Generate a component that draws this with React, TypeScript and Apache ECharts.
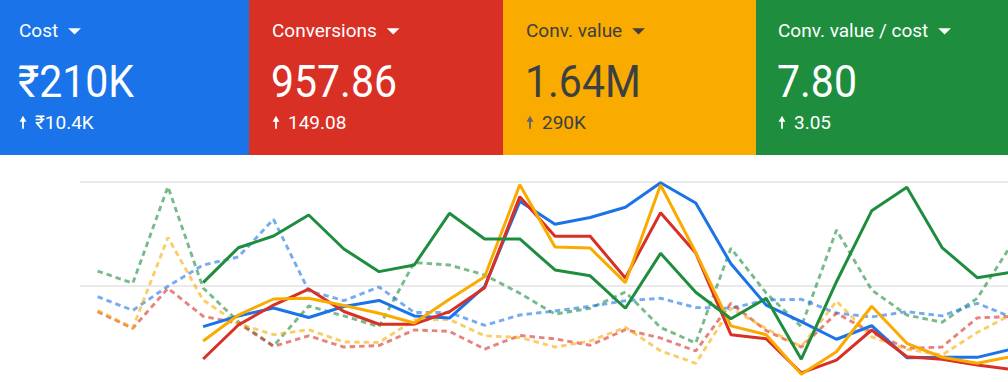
import React, { useEffect, useRef } from "react";
import * as echarts from "echarts";

// ---- Scorecard tiles ----
const tileTitles = ["Cost", "Conversions", "Conv. value", "Conv. value / cost"];
const tileValues = ["₹210K", "957.86", "1.64M", "7.80"];
const tileDeltas = ["₹10.4K", "149.08", "290K", "3.05"];

// ---- Chart data (normalised per metric: 100 = middle gridline, 200 = top gridline) ----
const weeks = [
  "W1", "W2", "W3", "W4", "W5", "W6", "W7", "W8", "W9", "W10", "W11", "W12", "W13", "W14",
  "W15", "W16", "W17", "W18", "W19", "W20", "W21", "W22", "W23", "W24", "W25", "W26", "W27",
];

const cost = [null, null, null, 60.9, 71.2, 78.8, 69.7, 80.3, 86.1, 71.2, 69.2, 99.5, 181.4, 159.4, 165.9, 175.7, 199.3, 179.8, 121.3, 81.7, 65.7, 48.8, 61.8, 31.0, 31.4, 31.4, 39.4];
const conversions = [null, null, null, 29.8, 62.5, 81.7, 97.1, 75.5, 63.2, 63.3, 75.3, 98.3, 185.9, 147.8, 147.8, 107.7, 170.5, 131.7, 53.2, 49.3, 16.5, 28.8, 57.7, 32.0, 29.6, 24.0, 19.6];
const convValue = [null, null, null, 47.1, 72.1, 87.5, 88.2, 81.3, 73.8, 64.4, 87.3, 108.9, 197.4, 137.5, 136.5, 103.2, 197.1, 132.2, 61.7, 53.2, 15.2, 36.8, 80.5, 44.9, 31.5, 25.7, 32.4];
const roas = [null, null, null, 103.2, 136.8, 148.1, 168.3, 135.6, 113.8, 120.2, 169.9, 145.2, 145.2, 115.4, 109.8, 78.6, 131.4, 94.0, 68.5, 88.2, 29.6, 104.1, 172.3, 194.9, 137.0, 108.0, 113.5];

const costPrev = [89.7, 76.6, 99.8, 120.2, 127.9, 164.1, 95.4, 85.9, 99.0, 74.5, 74.5, 62.2, 72.1, 76.0, 80.5, 85.8, 88.2, 79.3, 78.6, 86.5, 87.2, 74.0, 70.2, 75.3, 71.3, 83.4, 69.6];
const conversionsPrev = [75.3, 59.3, 97.8, 70.9, 64.1, 42.0, 52.1, 41.3, 42.8, 57.7, 56.4, 39.4, 52.4, 49.2, 43.0, 58.0, 50.0, 37.5, 83.4, 57.2, 41.2, 73.8, 55.3, 40.1, 41.3, 69.4, 70.7];
const convValuePrev = [76.6, 59.6, 146.6, 86.5, 63.8, 53.2, 58.0, 46.2, 45.7, 67.3, 67.8, 52.1, 50.5, 41.3, 47.1, 60.3, 37.7, 25.7, 78.6, 59.1, 41.6, 85.4, 51.0, 39.2, 33.7, 55.3, 73.1];
const roasPrev = [114.4, 102.6, 195.5, 98.1, 65.7, 42.3, 80.8, 71.2, 60.9, 122.6, 120.2, 110.6, 93.0, 72.9, 78.6, 94.2, 60.1, 45.2, 136.3, 93.3, 60.9, 153.8, 96.2, 72.1, 65.1, 88.2, 141.3];

const BLUE = "#1a73e8";
const RED = "#d93025";
const YELLOW = "#f9ab00";
const GREEN = "#1e8e3e";
const FONT = "Roboto, 'Noto Sans', sans-serif";

export default function App() {
  const ref = useRef<HTMLDivElement>(null);

  useEffect(() => {
    document.body.style.margin = "0";
    document.body.style.overflow = "hidden";
    document.documentElement.style.overflow = "hidden";
    const chart = echarts.init(ref.current!, null, { renderer: "svg" });
    const ctx = document.createElement("canvas").getContext("2d")!;
    const measure = (t: string, font: string) => {
      ctx.font = font;
      return ctx.measureText(t).width;
    };

    const tileX = [0, 249, 503, 756];
    const tileW = [249, 254, 253, 252];
    const textX = [19, 272, 526, 778];
    const fills = [BLUE, RED, YELLOW, GREEN];
    const fg = ["#ffffff", "#ffffff", "#3c4043", "#ffffff"];
    const arrowFg = ["#ffffff", "#ffffff", "#5f6368", "#ffffff"];

    const titleFont = `400 19px ${FONT}`;
    const graphics: any[] = [];
    tileTitles.forEach((title, i) => {
      graphics.push({
        type: "rect",
        shape: { x: tileX[i], y: 0, width: tileW[i], height: 155 },
        style: { fill: fills[i] },
        silent: true,
      });
      graphics.push({
        type: "text",
        x: textX[i],
        y: 30,
        style: { text: title, fill: fg[i], font: titleFont, verticalAlign: "middle" },
      });
      const tw = measure(title, titleFont);
      const tx = textX[i] + tw + 10;
      graphics.push({
        type: "polygon",
        shape: { points: [[tx, 28.3], [tx + 12.7, 28.3], [tx + 6.35, 34.5]] },
        style: { fill: fg[i] },
      });
      graphics.push({
        type: "text",
        x: textX[i] - 1,
        y: 81,
        scaleY: 1.08,
        style: {
          text: tileValues[i],
          fill: fg[i],
          font: `400 41px ${FONT}`,
          verticalAlign: "middle",
        },
      });
      // up arrow
      const ax = textX[i] + 4;
      graphics.push({
        type: "polygon",
        shape: { points: [[ax - 3.4, 121.8], [ax + 3.4, 121.8], [ax, 115.8]] },
        style: { fill: arrowFg[i] },
      });
      graphics.push({
        type: "line",
        shape: { x1: ax, y1: 120.5, x2: ax, y2: 128.8 },
        style: { stroke: arrowFg[i], lineWidth: 1.8 },
      });
      graphics.push({
        type: "text",
        x: textX[i] + 16,
        y: 122.5,
        style: { text: tileDeltas[i], fill: fg[i], font: `400 19px ${FONT}`, verticalAlign: "middle" },
      });
    });

    const solid = (name: string, data: any[], color: string) => ({
      name,
      type: "line",
      data,
      symbol: "none",
      lineStyle: { color, width: 3 },
      itemStyle: { color },
      connectNulls: false,
    });
    const dashed = (name: string, data: any[], color: string) => ({
      name,
      type: "line",
      data,
      symbol: "none",
      lineStyle: { color, width: 2.9, type: [5.5, 4], opacity: 0.6 },
      itemStyle: { color },
    });

    chart.setOption({
      animation: false,
      textStyle: { fontFamily: FONT },
      grid: { left: 80, right: 0, top: 182, bottom: 0, containLabel: false },
      xAxis: {
        type: "category",
        data: weeks,
        boundaryGap: true,
        axisLine: { show: false },
        axisTick: { show: false },
        axisLabel: { show: false },
        splitLine: { show: false },
      },
      yAxis: {
        type: "value",
        min: 0,
        max: 200,
        interval: 100,
        axisLine: { show: false },
        axisTick: { show: false },
        axisLabel: { show: false },
        splitLine: { show: true, lineStyle: { color: "#e3e3e3", width: 1.6 } },
      },
      series: [
        dashed("Conv. value / cost (previous)", roasPrev, GREEN),
        dashed("Cost (previous)", costPrev, BLUE),
        dashed("Conversions (previous)", conversionsPrev, RED),
        dashed("Conv. value (previous)", convValuePrev, YELLOW),
        solid("Cost", cost, BLUE),
        solid("Conversions", conversions, RED),
        solid("Conv. value", convValue, YELLOW),
        solid("Conv. value / cost", roas, GREEN),
      ],
      graphic: { elements: graphics },
    });

    return () => chart.dispose();
  }, []);

  return <div ref={ref} style={{ width: 1030.4, height: 390 }} />;
}
